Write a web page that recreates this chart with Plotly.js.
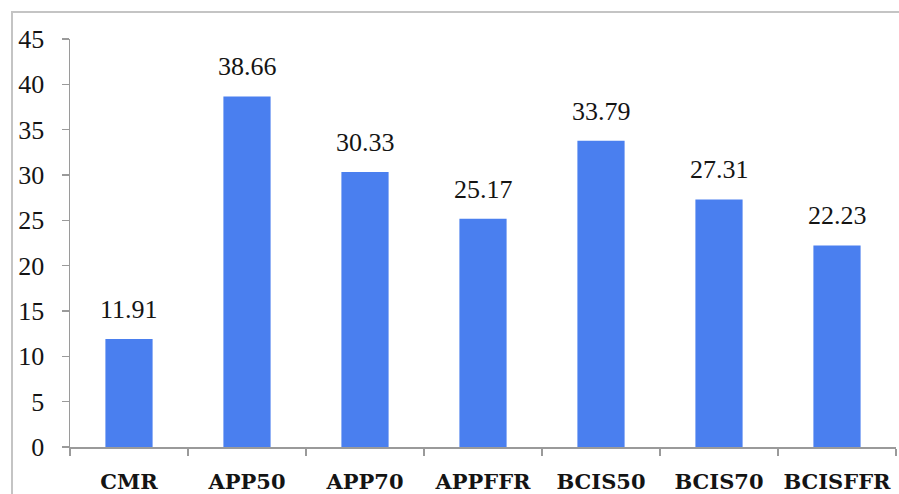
<!DOCTYPE html>
<html>
<head>
<meta charset="utf-8">
<script src="https://cdn.plot.ly/plotly-3.0.1.min.js"></script>
<style>
  html, body { margin: 0; padding: 0; background: #fff; }
  #wrap { position: relative; width: 899px; height: 494px; overflow: hidden; }
  #frame { position: absolute; left: 11px; top: 11px; width: 900px; height: 500px;
           border-left: 2px solid #c4c4c4; border-top: 2px solid #c4c4c4; pointer-events: none; }
  #chart { position: absolute; left: 0; top: 0; width: 899px; height: 494px; }
</style>
</head>
<body>
<div id="wrap">
  <div id="chart"></div>
  <div id="frame"></div>
</div>
<script>
const categories = ["CMR", "APP50", "APP70", "APPFFR", "BCIS50", "BCIS70", "BCISFFR"];
const values = [11.91, 38.66, 30.33, 25.17, 33.79, 27.31, 22.23];
const yTicks = [0, 5, 10, 15, 20, 25, 30, 35, 40, 45];

const numFont = { family: "Liberation Serif, serif", size: 26, color: "#141414" };

const trace = {
  type: "bar",
  x: categories,
  y: values,
  marker: { color: "#4A7FEF", line: { width: 0 } },
  hoverinfo: "none"
};

const annotations = categories.map((c, i) => ({
  x: c, y: values[i], xref: "x", yref: "y",
  text: values[i].toFixed(2),
  showarrow: false, yanchor: "bottom", yshift: 13,
  font: numFont
}));

const layout = {
  width: 899, height: 494,
  margin: { l: 70, r: 3, t: 39, b: 47 },
  paper_bgcolor: "#ffffff", plot_bgcolor: "#ffffff",
  bargap: 0.6,
  showlegend: false,
  xaxis: {
    showgrid: false, zeroline: false,
    showline: true, linecolor: "#9a9a9a", linewidth: 1.5,
    ticks: "outside", tickson: "boundaries", ticklen: 7, tickwidth: 1.5, tickcolor: "#9a9a9a",
    tickfont: { family: "DejaVu Serif, serif", size: 21, color: "#141414", weight: "bold" },
    ticklabelstandoff: 15
  },
  yaxis: {
    range: [0, 45], tickvals: yTicks, ticktext: yTicks.map(String),
    showgrid: false, zeroline: false,
    showline: true, linecolor: "#9a9a9a", linewidth: 1.5,
    ticks: "outside", ticklen: 7, tickwidth: 1.5, tickcolor: "#9a9a9a",
    tickfont: numFont,
    ticklabelstandoff: 12
  },
  annotations: annotations
};

Plotly.newPlot("chart", [trace], layout, { displayModeBar: false, staticPlot: true });
</script>
</body>
</html>
